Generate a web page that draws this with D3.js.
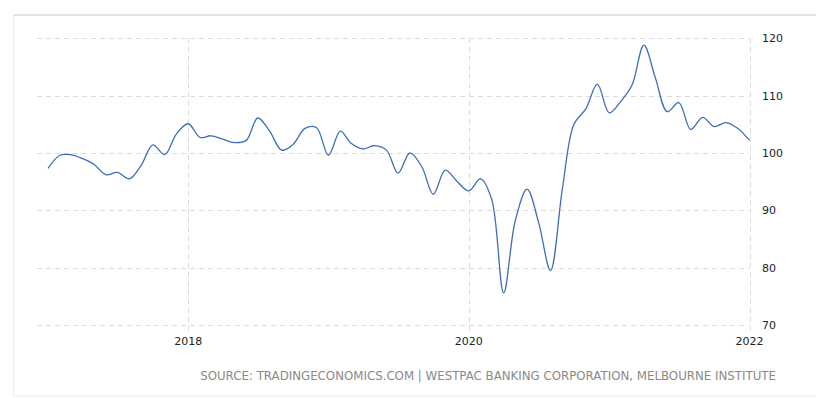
<!DOCTYPE html>
<html>
<head>
<meta charset="utf-8">
<script src="https://cdn.jsdelivr.net/npm/d3@7"></script>
<style>
  html, body { margin: 0; padding: 0; background: #fff; }
  svg { display: block; }
</style>
</head>
<body>
<div id="chart"></div>
<script>
// monthly values, Jan 2017 .. Jan 2022
var startMonth = "2017-01";
var values = [
	97.3, 99.6, 99.7, 99.0, 98.0, 96.2, 96.6, 95.5, 97.9, 101.4, 99.7, 103.3,
	105.1, 102.7, 103.0, 102.4, 101.8, 102.2, 106.1, 103.8, 100.5, 101.5, 104.3, 104.4,
	99.6, 103.8, 101.7, 100.7, 101.3, 100.5, 96.5, 100.0, 97.6, 92.8, 97.0, 95.1,
	93.4, 95.5, 91.9, 75.6, 88.1, 93.7, 87.9, 79.5, 93.8, 105.0, 107.7, 112.0,
	107.0, 109.1, 111.8, 118.8, 113.1, 107.2, 108.8, 104.1, 106.2, 104.6, 105.3, 104.3,
	102.2
];
var yTicks = [70, 80, 90, 100, 110, 120];
var xTicks = ["2018", "2020", "2022"];
var sourceText = "SOURCE: TRADINGECONOMICS.COM | WESTPAC BANKING CORPORATION, MELBOURNE INSTITUTE";

var W = 816, H = 398;
var parseMonth = d3.timeParse("%Y-%m");
var t0 = parseMonth(startMonth);
var data = values.map(function(v, i) {
	return { date: d3.timeMonth.offset(t0, i), value: v };
});

var svg = d3.select("#chart").append("svg")
	.attr("width", W)
	.attr("height", H);

// frame
svg.append("rect")
	.attr("x", 13.5).attr("y", 15.5)
	.attr("width", W).attr("height", 380.5)
	.attr("fill", "none")
	.attr("stroke", "#ececec")
	.attr("stroke-width", 1);
svg.append("line")
	.attr("x1", 13).attr("x2", W)
	.attr("y1", 15).attr("y2", 15)
	.attr("stroke", "#e4e4e4")
	.attr("stroke-width", 2);

var x = d3.scaleTime()
	.domain([t0, parseMonth("2022-01")])
	.range([48, 749.5]);
var y = d3.scaleLinear()
	.domain([70, 120])
	.range([325, 38.3]);

// horizontal grid
svg.append("g").selectAll("line")
	.data(yTicks)
	.join("line")
	.attr("x1", 37).attr("x2", 749.5)
	.attr("y1", function(d) { return Math.round(y(d)) + 0.5; })
	.attr("y2", function(d) { return Math.round(y(d)) + 0.5; })
	.attr("stroke", "#dcdcdc")
	.attr("stroke-dasharray", "5,4");

// vertical grid
svg.append("g").selectAll("line")
	.data(xTicks)
	.join("line")
	.attr("x1", function(d) { return Math.round(x(parseMonth(d + "-01"))) + 0.5; })
	.attr("x2", function(d) { return Math.round(x(parseMonth(d + "-01"))) + 0.5; })
	.attr("y1", 38).attr("y2", 334)
	.attr("stroke", "#dcdcdc")
	.attr("stroke-dasharray", "5,4");

// y labels (right)
svg.append("g").selectAll("text")
	.data(yTicks)
	.join("text")
	.attr("x", 762)
	.attr("y", function(d) { return y(d); })
	.attr("dy", "0.36em")
	.style("font-family", "DejaVu Sans")
	.style("font-size", "11px")
	.attr("fill", "#222")
	.text(function(d) { return d; });

// x labels
svg.append("g").selectAll("text")
	.data(xTicks)
	.join("text")
	.attr("x", function(d) { return x(parseMonth(d + "-01")); })
	.attr("y", 345)
	.attr("text-anchor", "middle")
	.style("font-family", "DejaVu Sans")
	.style("font-size", "11px")
	.attr("fill", "#222")
	.text(function(d) { return d; });

// line
var line = d3.line()
	.x(function(d) { return x(d.date); })
	.y(function(d) { return y(d.value); })
	.curve(d3.curveCatmullRom.alpha(0.5));

svg.append("path")
	.datum(data)
	.attr("d", line)
	.attr("fill", "none")
	.attr("stroke", "#3d6fb6")
	.attr("stroke-width", 1.3);

// source
svg.append("text")
	.attr("x", 776)
	.attr("y", 380)
	.attr("text-anchor", "end")
	.style("font-family", "DejaVu Sans")
	.style("font-size", "11.8px")
	.attr("fill", "#8a8a8a")
	.text(sourceText);
</script>
</body>
</html>
